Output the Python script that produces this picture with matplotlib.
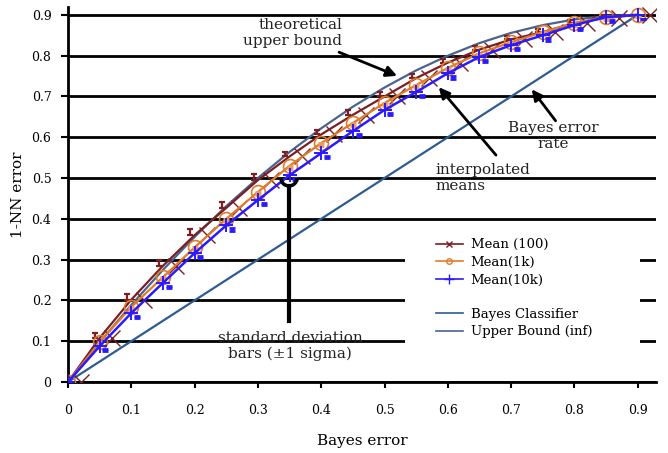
import numpy as np
import matplotlib.pyplot as plt
from matplotlib.lines import Line2D
from matplotlib.patches import Arc, Rectangle

# values
bayes_err = [0.0, 0.05, 0.1, 0.15, 0.2, 0.25, 0.3, 0.35, 0.4, 0.45,
             0.5, 0.55, 0.6, 0.65, 0.7, 0.75, 0.8, 0.85, 0.9]
mean_100 = [0.0, 0.108, 0.202, 0.285, 0.36, 0.427, 0.495, 0.553, 0.607, 0.655,
            0.70, 0.745, 0.783, 0.815, 0.84, 0.858, 0.88, 0.893, 0.9]
mean_1k = [0.0, 0.098, 0.184, 0.257, 0.33, 0.40, 0.466, 0.53, 0.586, 0.635,
           0.684, 0.728, 0.77, 0.806, 0.833, 0.858, 0.88, 0.895, 0.9]
mean_10k = [0.0, 0.088, 0.169, 0.243, 0.316, 0.384, 0.446, 0.507, 0.561, 0.615,
            0.667, 0.711, 0.757, 0.797, 0.826, 0.85, 0.875, 0.895, 0.9]
std_100 = [0.0, 0.006, 0.007, 0.007, 0.007, 0.007, 0.007, 0.006, 0.006, 0.006,
           0.006, 0.005, 0.005, 0.005, 0.004, 0.004, 0.004, 0.003, 0.0]
std_1k = [0.0, 0.004, 0.004, 0.004, 0.004, 0.004, 0.004, 0.004, 0.004, 0.004,
          0.004, 0.004, 0.004, 0.003, 0.003, 0.003, 0.003, 0.003, 0.0]
std_10k = [0.0, 0.003, 0.003, 0.003, 0.003, 0.003, 0.003, 0.003, 0.003, 0.003,
           0.003, 0.003, 0.003, 0.003, 0.003, 0.003, 0.003, 0.003, 0.0]
upper_bound = [0.0, 0.097, 0.189, 0.275, 0.356, 0.431, 0.5, 0.564, 0.622, 0.675,
               0.722, 0.764, 0.8, 0.831, 0.856, 0.875, 0.889, 0.897, 0.9]
bayes_x = [0.0, 0.9]
bayes_y = [0.0, 0.9]
ticks = [0.0, 0.1, 0.2, 0.3, 0.4, 0.5, 0.6, 0.7, 0.8, 0.9]
tick_labels = ['0', '0.1', '0.2', '0.3', '0.4', '0.5', '0.6', '0.7', '0.8', '0.9']

c100 = '#7a1f24'
c1k = '#e07b2a'
c10k = '#2a1aff'
c_bayes = '#2f5b93'
c_ub = '#4a6390'

plt.rcParams['font.family'] = 'DejaVu Serif'

fig = plt.figure(figsize=(6.68, 4.53), dpi=100)
ax = fig.add_axes([0.102, 0.157, 0.880, 0.828])

x = np.array(bayes_err)
m100 = np.array(mean_100)
m1k = np.array(mean_1k)
m10k = np.array(mean_10k)

ax.plot(bayes_x, bayes_y, color=c_bayes, lw=1.6, zorder=3)
ax.plot(x, upper_bound, color=c_ub, lw=1.6, zorder=3)

# Mean(100): line, offset error bars and offset markers
ax.plot(x, m100, color=c100, lw=1.6, zorder=4)
ax.errorbar(x - 0.007, m100 + np.array(std_100), yerr=std_100, fmt='none',
            ecolor=c100, elinewidth=1.6, capsize=2.5, capthick=1.6, zorder=4)
ax.plot(x + 0.02, m100, ls='none', marker='x', ms=11, mew=1.0, color=c100, zorder=4)

# Mean(1k)
ax.plot(x, m1k, color=c1k, lw=1.6, zorder=5)
ax.errorbar(x, m1k - 0.004, yerr=std_1k, fmt='none', ecolor='#ee9a5a',
            elinewidth=3, capsize=2.5, capthick=2, zorder=5)
ax.plot(x, m1k, ls='none', marker='o', ms=10, mfc='none', mec=c1k, mew=1.2, zorder=5)

# Mean(10k)
ax.plot(x, m10k, color=c10k, lw=1.8, zorder=6)
ax.errorbar(x + 0.009, m10k - 0.01, yerr=std_10k, fmt='none', ecolor=c10k,
            elinewidth=2.5, capsize=2, capthick=2, zorder=6)
ax.plot(x, m10k, ls='none', marker='+', ms=10, mew=1.4, color=c10k, zorder=6)

ax.set_xlim(0, 0.929)
ax.set_ylim(0, 0.92)
ax.set_xticks(ticks)
ax.set_xticklabels(tick_labels)
ax.set_yticks(ticks)
ax.set_yticklabels(tick_labels)
ax.tick_params(axis='x', direction='out', length=4, width=1.5, pad=12, labelsize=9)
ax.tick_params(axis='y', direction='out', length=5, width=1.5, pad=7, labelsize=9)
for s in ['top', 'right']:
    ax.spines[s].set_visible(False)
for s in ['left', 'bottom']:
    ax.spines[s].set_linewidth(2)
ax.yaxis.grid(True, color='black', lw=2)
ax.set_axisbelow(True)

ax.set_xlabel('Bayes error', fontsize=11, labelpad=12)
ax.set_ylabel('1-NN error', fontsize=11, labelpad=5)

# white area behind the legend
ax.add_patch(Rectangle((0.573, 0.085), 0.40, 0.307, transform=ax.transAxes,
                       facecolor='white', edgecolor='none', zorder=1.5))

h1 = [Line2D([], [], color=c100, marker='x', ms=4, lw=1.2),
      Line2D([], [], color=c1k, marker='o', ms=4, mfc='none', lw=1.2),
      Line2D([], [], color=c10k, marker='+', ms=7, lw=1.2)]
leg1 = ax.legend(h1, ['Mean (100)', 'Mean(1k)', 'Mean(10k)'], loc='upper left',
                 bbox_to_anchor=(0.615, 0.40), frameon=False, fontsize=9.5,
                 handlelength=2.0, handletextpad=0.6, labelspacing=0.35, borderpad=0)
ax.add_artist(leg1)
h2 = [Line2D([], [], color=c_bayes, lw=1.2), Line2D([], [], color=c_ub, lw=1.2)]
ax.legend(h2, ['Bayes Classifier', 'Upper Bound (inf)'], loc='upper left',
          bbox_to_anchor=(0.615, 0.215), frameon=False, fontsize=9.5,
          handlelength=2.0, handletextpad=0.6, labelspacing=0.35, borderpad=0)

arrow = dict(arrowstyle='-|>', color='black', lw=2, mutation_scale=16)
ax.annotate('theoretical\nupper bound', xy=(0.524, 0.748), xytext=(0.433, 0.855),
            ha='right', va='center', multialignment='right', fontsize=11,
            color='#222222', arrowprops=arrow)
ax.annotate('interpolated\nmeans', xy=(0.583, 0.728), xytext=(0.58, 0.50),
            ha='left', va='center', fontsize=11, color='#222222')
ax.annotate('', xy=(0.583, 0.728), xytext=(0.679, 0.551), arrowprops=arrow)
ax.annotate('Bayes error\nrate', xy=(0.766, 0.603), ha='center', va='center',
            multialignment='center', fontsize=11, color='#222222')
ax.annotate('', xy=(0.730, 0.723), xytext=(0.773, 0.635), arrowprops=arrow)
ax.text(0.351, 0.088, 'standard deviation\nbars (\u00b11 sigma)', ha='center',
        va='center', multialignment='center', fontsize=11, color='#222222')

# marker for the standard deviation bars
ax.plot([0.349, 0.349], [0.15, 0.48], color='black', lw=3, zorder=7)
ax.add_patch(Arc((0.349, 0.5), 0.0253, 0.039, theta1=180, theta2=360,
                 color='black', lw=2.5, zorder=7))

fig.savefig('out.png', dpi=100)
